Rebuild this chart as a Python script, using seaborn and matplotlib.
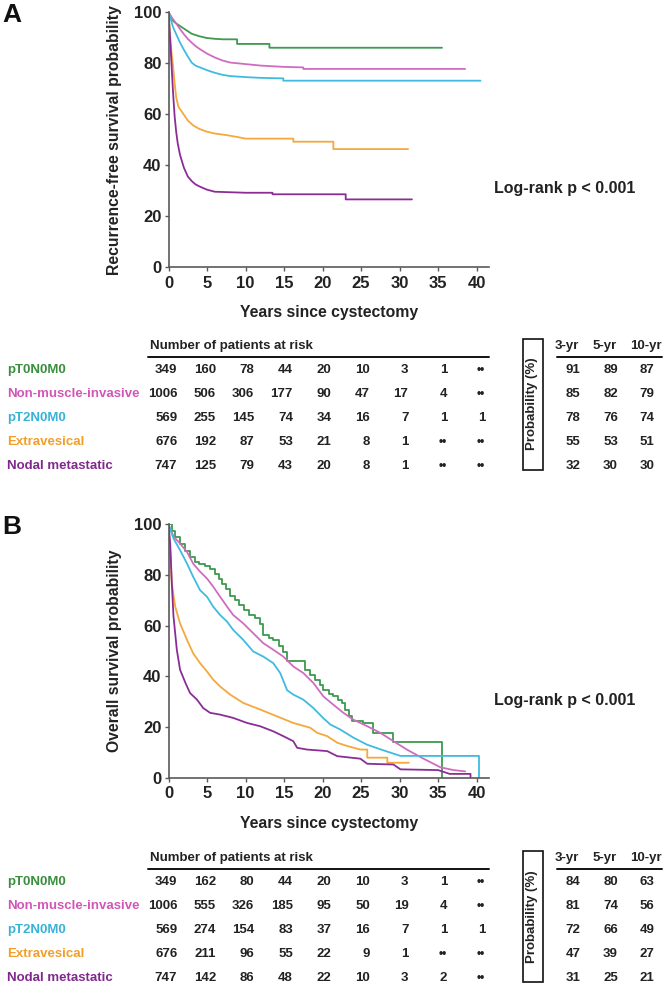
import numpy as np
import pandas as pd
import matplotlib
matplotlib.use('Agg')
import matplotlib.pyplot as plt
import matplotlib.transforms as mtransforms
from matplotlib.patches import Rectangle
import seaborn as sns

# 그룹과 색
groups = ['pT0N0M0', 'Non-muscle-invasive', 'pT2N0M0', 'Extravesical', 'Nodal metastatic']
line_colors = ['#3d9a4e', '#d06cbf', '#3fbbe0', '#f5a83c', '#8a2e96']
label_colors = ['#3a8e3e', '#d256b5', '#38b2d6', '#f29e2c', '#80298c']

# A: recurrence-free survival
a_t0 = [0, 0.3, 0.6, 1, 1.5, 2, 2.5, 3, 3.5, 4, 5, 6, 7, 8.9, 8.9, 13.1, 13.1, 35.5]
a_s0 = [100, 98, 96.5, 95.5, 94.5, 93.5, 92.5, 91.5, 91, 90.5, 89.8, 89.5, 89.3, 89.3, 87.5, 87.5, 86.0, 86.0]
a_t1 = [0, 0.5, 1, 1.5, 2, 2.5, 3, 3.5, 4, 5, 6, 7, 8, 10, 12, 15, 17.5, 17.5, 38.5]
a_s1 = [100, 97.5, 95.5, 93.3, 91.3, 89.5, 88, 86.7, 85.6, 83.7, 82.2, 81, 80.2, 79.6, 79, 78.5, 78.3, 77.7, 77.7]
a_t2 = [0, 0.3, 0.6, 1, 1.5, 2, 2.5, 3, 3.5, 4, 5, 6, 7, 8, 10, 12, 14.9, 14.9, 40.5]
a_s2 = [100, 97, 94, 91.3, 88, 85.2, 82.6, 80.2, 79, 78.4, 77.2, 76.2, 75.4, 74.9, 74.5, 74.2, 74.0, 73.1, 73.1]
a_t3 = [0, 0.2, 0.4, 0.6, 0.8, 1.0, 1.3, 1.9, 2.5, 3.2, 4, 5, 6, 7.5, 9, 10, 16.2, 16.2, 21.4, 21.4, 31.1]
a_s3 = [100, 91, 84, 78.5, 72, 66.5, 62.8, 60.2, 57.5, 55.6, 54.2, 53.1, 52.4, 51.8, 51, 50.4, 50.4, 49.2, 49.2, 46.3, 46.3]
a_t4 = [0, 0.2, 0.4, 0.6, 0.8, 1.0, 1.2, 1.5, 2, 2.5, 3, 3.5, 4, 5, 6, 8, 10, 13.5, 13.5, 23, 23, 31.6]
a_s4 = [100, 90, 79, 68, 59, 53, 48.5, 44, 39, 35.6, 33.8, 32.5, 31.7, 30.4, 29.6, 29.4, 29.2, 29.2, 28.6, 28.6, 26.6, 26.6]

# B: overall survival (green 은 계단형)
b_t0 = [0, 0.4, 0.9, 1.5, 2.2, 2.8, 3.4, 4.0, 4.7, 5.4, 6.0, 6.5, 7.0, 7.5, 8.0, 8.6, 9.2, 9.8, 10.4,
        11.2, 11.9, 12.3, 13.0, 13.6, 14.3, 14.9, 15.4, 17.7, 18.4, 19.0, 19.6, 20.1, 20.8, 21.4, 22.0,
        22.5, 22.9, 23.4, 23.8, 25.3, 26.6, 29.2, 35.5]
b_s0 = [100, 97.5, 95, 92.4, 89.5, 87.2, 85.2, 84.2, 83.4, 82.2, 80.5, 78.5, 76.5, 74.6, 71.8, 70.0,
        68.0, 66.0, 64.2, 62.9, 60.5, 56.5, 55.2, 54.4, 52.0, 49.8, 45.9, 42.6, 40.5, 38.7, 36.5, 34.7,
        33.2, 32.1, 30.5, 29.5, 26.9, 24.5, 22.3, 21.5, 17.7, 14.0, 0]
b_t1 = [0, 0.65, 1.5, 2.4, 3.2, 4.1, 5.0, 5.8, 6.7, 7.6, 8.4, 9.7, 11.0, 12.3, 13.6, 14.9, 16.2, 17.5,
        18.8, 20.1, 21.4, 22.7, 24.0, 25.8, 27.5, 29.2, 31.0, 33.1, 35.3, 37.0, 38.5]
b_s1 = [100, 95.2, 92.4, 89.1, 84.5, 81.3, 78.6, 75.4, 71.4, 67.5, 64.2, 60.9, 57.0, 53.1, 50.5, 47.8,
        43.9, 41.3, 37.4, 32.1, 28.8, 25.6, 22.9, 20.3, 17.7, 14.4, 11.0, 7.5, 4.1, 3.0, 2.5]
b_t2 = [0, 0.65, 1.5, 2.4, 3.2, 4.1, 5.0, 5.8, 6.7, 7.6, 8.4, 9.7, 11.0, 12.3, 13.6, 14.5, 15.4, 16.2,
        17.5, 18.8, 20.1, 21.0, 22.3, 24.0, 25.8, 27.5, 29.2, 30.1, 40.3, 40.3]
b_s2 = [100, 94.4, 89.8, 84.5, 79.3, 74.0, 71.4, 67.5, 64.2, 61.6, 58.3, 54.4, 49.8, 47.8, 45.2, 41.3,
        34.5, 32.8, 30.8, 27.5, 23.5, 21.0, 19.0, 15.8, 13.0, 11.2, 9.5, 8.6, 8.6, 0]
b_t3 = [0, 0.22, 0.43, 0.87, 1.5, 2.4, 3.2, 4.1, 5.0, 5.8, 6.7, 8.0, 9.7, 11.9, 14.1, 16.2, 18.4, 19.3,
        20.6, 21.9, 23.2, 24.9, 25.8, 25.8, 28.4, 28.4, 31.2]
b_s3 = [100, 89.8, 76.7, 67.5, 60.9, 54.4, 49.1, 45.2, 41.9, 38.7, 36.0, 32.8, 29.5, 26.9, 24.2, 21.6,
        19.7, 17.7, 16.4, 13.8, 12.5, 11.1, 11.1, 7.9, 7.9, 5.9, 5.9]
b_t4 = [0, 0.22, 0.43, 0.65, 1.08, 1.5, 2.2, 2.8, 3.7, 4.5, 5.4, 6.7, 8.4, 10.2, 11.9, 13.6, 14.9, 16.2,
        16.7, 18.0, 20.6, 21.9, 24.9, 25.8, 29.2, 30.1, 35.0, 36.5, 39.2, 39.2]
b_s4 = [100, 92.4, 76.7, 63.6, 50.5, 42.6, 37.4, 33.4, 30.8, 27.5, 25.6, 24.9, 23.6, 21.6, 20.3, 18.3,
        16.4, 14.4, 11.8, 11.1, 10.5, 8.5, 7.5, 5.5, 5.2, 3.3, 3.0, 1.5, 1.5, 0]

# number at risk (None = ••)
risk_times = [0, 5, 10, 15, 20, 25, 30, 35, 40]
risk_a = [[349, 160, 78, 44, 20, 10, 3, 1, None],
          [1006, 506, 306, 177, 90, 47, 17, 4, None],
          [569, 255, 145, 74, 34, 16, 7, 1, 1],
          [676, 192, 87, 53, 21, 8, 1, None, None],
          [747, 125, 79, 43, 20, 8, 1, None, None]]
risk_b = [[349, 162, 80, 44, 20, 10, 3, 1, None],
          [1006, 555, 326, 185, 95, 50, 19, 4, None],
          [569, 274, 154, 83, 37, 16, 7, 1, 1],
          [676, 211, 96, 55, 22, 9, 1, None, None],
          [747, 142, 86, 48, 22, 10, 3, 2, None]]
prob_headers = ['3-yr', '5-yr', '10-yr']
prob_a = [[91, 89, 87], [85, 82, 79], [78, 76, 74], [55, 53, 51], [32, 30, 30]]
prob_b = [[84, 80, 63], [81, 74, 56], [72, 66, 49], [47, 39, 27], [31, 25, 21]]

rows = []
for panel, ts, ss in [('A', [a_t0, a_t1, a_t2, a_t3, a_t4], [a_s0, a_s1, a_s2, a_s3, a_s4]),
                      ('B', [b_t0, b_t1, b_t2, b_t3, b_t4], [b_s0, b_s1, b_s2, b_s3, b_s4])]:
    for g, t, s in zip(groups, ts, ss):
        rows.append(pd.DataFrame({'panel': panel, 'group': g, 'time': t, 'surv': s}))
df = pd.concat(rows, ignore_index=True)

sns.set_style('ticks')
plt.rcParams['font.family'] = ['Liberation Sans', 'DejaVu Sans']
plt.rcParams['font.weight'] = 'bold'
plt.rcParams['axes.labelweight'] = 'bold'

W, H = 664, 983
fig = plt.figure(figsize=(W / 100, H / 100), dpi=100)
ov = fig.add_axes([0, 0, 1, 1])
ov.set_xlim(0, W)
ov.set_ylim(H, 0)
ov.axis('off')
ov.patch.set_alpha(0)

spine_c = '#5a5a5a'
txt_c = '#222222'


def panel(top_px, bottom_px, key, ylabel, risk, prob, letter):
    ax = fig.add_axes([168.5 / W, 1 - bottom_px / H, (489 - 168.5) / W, (bottom_px - top_px) / H])
    sub = df[df.panel == key]
    for i, g in enumerate(groups):
        d = sub[sub.group == g]
        ds = 'steps-post' if (key == 'B' and i == 0) else 'default'
        sns.lineplot(data=d, x='time', y='surv', color=line_colors[i], estimator=None, sort=False,
                     lw=1.3, drawstyle=ds, ax=ax)
    ax.set_xlim(0, 41.6)
    ax.set_ylim(0, 100)
    ax.set_xticks(risk_times)
    ax.set_yticks([0, 20, 40, 60, 80, 100])
    sns.despine(ax=ax)
    for sp in ['left', 'bottom']:
        ax.spines[sp].set_color(spine_c)
        ax.spines[sp].set_linewidth(1.2)
    ax.tick_params(axis='both', length=3, width=1, color=spine_c, labelsize=12,
                   labelcolor=txt_c)
    ax.tick_params(axis='x', pad=3)
    ax.tick_params(axis='y', pad=2)
    ax.set_xlabel('Years since cystectomy', fontsize=11.3, color=txt_c)
    ax.set_ylabel(ylabel, fontsize=11.3, color=txt_c)
    ax.xaxis.set_label_coords(0.5, -(45.7 / (bottom_px - top_px)))
    ax.xaxis.label.set_va('center')
    ax.yaxis.set_label_coords(-(54 / 320.5), 0.5)
    ax.yaxis.label.set_va('center')

    off = top_px - 12
    ov.text(12, 15 + off, letter, fontsize=19, ha='center', va='center', color='#111111')
    ov.text(494, 188 + off, 'Log-rank p < 0.001', fontsize=11.5, ha='left', va='center', color=txt_c)

    # at-risk table
    tr = mtransforms.blended_transform_factory(ax.transData, ov.transData)
    ov.text(150, 346 + off, 'Number of patients at risk', fontsize=9.5, ha='left', va='center', color=txt_c)
    ov.plot([148, 489], [357 + off, 357 + off], color='#111111', lw=1.4)
    row_y = [370 + off + 24 * k for k in range(len(groups))]
    for k, g in enumerate(groups):
        ov.text(7, row_y[k], g, fontsize=9.5, ha='left', va='center', color=label_colors[k])
        for t, n in zip(risk_times, risk[k]):
            if n is None:
                ov.text(t + 1.1, row_y[k], '••', fontsize=8.5, ha='right', va='center',
                        color=txt_c, transform=tr)
            else:
                ov.text(t + 1.15, row_y[k], str(n), fontsize=9.5, ha='right', va='center',
                        color=txt_c, transform=tr)

    # probability box
    ov.add_patch(Rectangle((522.5, 339 + off), 20, 131, fill=False, ec='#111111', lw=1.2))
    ov.text(532.5, 404 + off, 'Probability (%)', rotation=90, fontsize=9.5, ha='center', va='center',
            color=txt_c)
    for hx, h in zip([567, 605, 646], prob_headers):
        ov.text(hx, 346 + off, h, fontsize=9.5, ha='center', va='center', color=txt_c)
    ov.plot([557, 662], [357 + off, 357 + off], color='#111111', lw=1.4)
    for k in range(len(groups)):
        for vx, v in zip([573, 610.5, 647], prob[k]):
            ov.text(vx, row_y[k], str(v), fontsize=9.5, ha='center', va='center', color=txt_c)
    return ax


panel(12, 267.3, 'A', 'Recurrence-free survival probability', risk_a, prob_a, 'A')
panel(524.3, 777.7, 'B', 'Overall survival probability', risk_b, prob_b, 'B')

fig.savefig('out.png', dpi=100)
